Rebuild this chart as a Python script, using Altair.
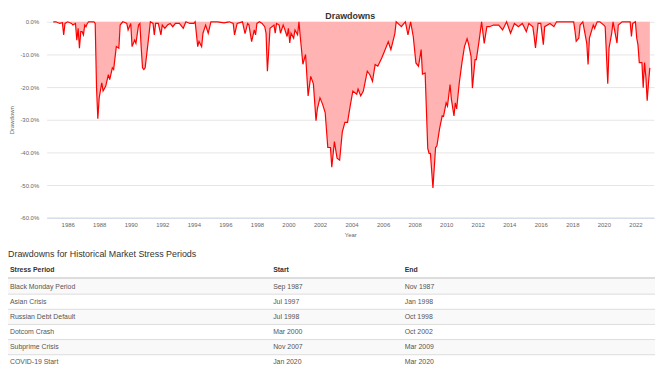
import altair as alt
import pandas as pd

# ---- Drawdown readings (month-end, percent) ----
months = [
    "1985-01", "1985-03", "1985-06", "1985-08", "1985-09", "1985-10", "1985-12",
    "1986-03", "1986-04", "1986-06", "1986-07", "1986-08", "1986-09", "1986-10", "1986-11", "1986-12",
    "1987-01", "1987-02", "1987-03", "1987-04", "1987-07", "1987-08", "1987-09", "1987-10", "1987-11", "1987-12",
    "1988-02", "1988-03", "1988-05", "1988-07", "1988-08", "1988-10", "1988-11",
    "1989-01", "1989-03", "1989-04", "1989-06", "1989-08", "1989-09", "1989-10", "1989-12",
    "1990-01", "1990-03", "1990-04", "1990-06", "1990-07", "1990-08", "1990-09", "1990-10", "1990-11",
    "1991-01", "1991-03", "1991-05", "1991-06", "1991-07", "1991-09", "1991-11", "1991-12",
    "1992-02", "1992-04", "1992-06", "1992-08", "1992-10",
    "1993-01", "1993-04", "1993-06", "1993-09", "1993-12",
    "1994-01", "1994-03", "1994-04", "1994-06", "1994-07", "1994-09", "1994-11",
    "1995-01", "1995-06", "1995-11", "1996-03", "1996-06", "1996-07", "1996-09",
    "1997-01", "1997-03", "1997-05", "1997-06", "1997-08", "1997-10", "1997-11", "1997-12",
    "1998-02", "1998-04", "1998-06", "1998-07", "1998-08", "1998-09", "1998-10",
    "1999-01", "1999-02", "1999-03", "1999-05", "1999-06", "1999-08", "1999-09", "1999-11", "1999-12",
    "2000-01", "2000-02", "2000-04", "2000-05", "2000-07", "2000-08", "2000-09", "2000-11",
    "2001-01", "2001-03", "2001-05", "2001-07", "2001-09", "2001-10", "2001-12",
    "2002-02", "2002-04", "2002-06", "2002-08", "2002-09", "2002-11",
    "2003-01", "2003-03", "2003-05", "2003-07", "2003-09", "2003-11",
    "2004-01", "2004-04", "2004-05", "2004-07", "2004-09", "2004-12",
    "2005-02", "2005-04", "2005-06", "2005-08", "2005-11",
    "2006-01", "2006-04", "2006-06", "2006-09", "2006-10",
    "2007-02", "2007-04", "2007-05", "2007-07", "2007-09", "2007-11",
    "2008-01", "2008-03", "2008-05", "2008-06", "2008-08", "2008-10", "2008-11", "2008-12",
    "2009-02", "2009-04", "2009-05", "2009-07", "2009-09", "2009-10", "2009-12",
    "2010-01", "2010-03", "2010-04", "2010-06", "2010-07", "2010-08", "2010-10", "2010-12",
    "2011-02", "2011-04", "2011-05", "2011-07", "2011-08", "2011-10", "2011-11",
    "2012-01", "2012-03", "2012-05", "2012-07", "2012-09", "2012-12",
    "2013-04", "2013-07", "2013-10",
    "2014-01", "2014-04", "2014-07", "2014-10",
    "2015-01", "2015-03", "2015-06", "2015-07", "2015-08", "2015-10", "2015-12",
    "2016-02", "2016-03", "2016-07", "2016-10", "2016-12",
    "2017-08", "2017-12",
    "2018-01", "2018-02", "2018-03", "2018-05", "2018-06", "2018-08", "2018-11", "2018-12",
    "2019-01", "2019-04", "2019-05", "2019-07", "2019-09", "2019-12",
    "2020-01", "2020-03", "2020-04", "2020-06", "2020-07", "2020-10", "2020-11",
    "2021-02", "2021-08", "2021-09", "2021-10", "2021-12",
    "2022-01", "2022-02", "2022-03", "2022-04", "2022-05", "2022-06", "2022-07", "2022-08",
    "2022-09", "2022-10", "2022-11",
]
drawdown_pct = [
    0.0, 0.0, -0.5, -0.3, -4.0, -0.5, 0.0,
    -0.5, -1.0, -0.5, -5.6, -2.0, -8.1, -3.0, -3.0, -4.0,
    -1.0, -1.5, -0.5, 0.0, 0.0, 0.0, -0.5, -20.2, -29.7, -23.3,
    -18.7, -21.2, -19.7, -16.2, -17.7, -14.1, -14.6,
    -7.6, -8.1, -1.0, 0.0, -0.3, -0.5, -2.5, -0.5,
    -7.6, -5.6, -6.6, -1.0, -0.5, -8.0, -14.1, -14.6, -14.1,
    -7.0, 0.0, -0.5, -4.0, -0.5, -0.5, -4.0, -1.0,
    -2.0, -1.0, -0.5, -1.5, -0.5,
    -0.5, -2.0, 0.0, -0.5, -0.5,
    0.0, -7.6, -6.0, -7.6, -3.5, -1.0, -3.5,
    0.0, 0.0, -0.3, 0.0, -0.5, -4.0, -0.5,
    0.0, -3.6, -0.5, -1.0, -6.1, -2.5, -4.0, -0.5,
    0.0, -0.5, -1.5, -3.5, -15.1, -9.0, -2.0,
    -1.0, -3.5, -0.5, -1.0, -3.5, -1.0, -2.0, -4.5, -2.0,
    -6.5, -3.5, -5.0, -2.5, -4.0, 0.0, -4.5, -13.0,
    -10.0, -22.7, -16.7, -19.0, -30.3, -26.7, -23.3,
    -25.2, -27.8, -38.5, -38.5, -44.5, -36.7,
    -41.8, -42.4, -33.8, -30.8, -30.8, -25.8,
    -21.2, -22.2, -20.6, -22.7, -21.2, -15.1,
    -16.2, -18.2, -13.1, -13.6, -11.1,
    -9.1, -6.1, -8.5, -3.6, 0.0,
    -1.5, -0.5, 0.0, -4.0, 0.0, -4.5,
    -12.6, -13.6, -8.5, -16.0, -15.7, -38.8, -40.3, -40.3,
    -50.9, -38.5, -38.0, -32.8, -28.8, -29.0, -24.8,
    -25.8, -19.2, -23.6, -28.8, -24.8, -26.7, -18.7, -12.6,
    -7.6, -5.2, -6.6, -10.6, -20.3, -11.6, -11.6,
    -6.0, 0.0, -6.6, -1.5, -1.5, -1.0,
    -1.0, -2.5, 0.0,
    -3.5, -0.5, -1.5, -0.5,
    -3.0, -0.5, -1.5, -4.5, -8.0, -0.5, -0.5,
    -7.0, -1.5, -0.5, -1.5, 0.0,
    0.0, 0.0,
    0.0, -2.5, -6.0, -5.0, -1.0, 0.0, -6.5, -13.1,
    -5.0, -1.0, -2.0, 0.0, 0.0, -1.0,
    -1.5, -19.0, -8.0, -3.5, 0.0, -6.5, -1.0,
    0.0, 0.0, -4.5, -0.5, 0.0,
    -5.0, -7.0, -12.5, -12.5, -12.5, -20.2, -12.5, -17.0,
    -24.2, -18.6, -14.1,
]

# ---- Stress period table ----
table_title = "Drawdowns for Historical Market Stress Periods"
column_headers = ["Stress Period", "Start", "End"]
stress_periods = ["Black Monday Period", "Asian Crisis", "Russian Debt Default",
                  "Dotcom Crash", "Subprime Crisis", "COVID-19 Start"]
period_start = ["Sep 1987", "Jul 1997", "Jul 1998", "Mar 2000", "Nov 2007", "Jan 2020"]
period_end = ["Nov 1987", "Jan 1998", "Oct 1998", "Oct 2002", "Mar 2009", "Mar 2020"]

FONT = "Liberation Sans"

df = pd.DataFrame({
    "date": (pd.to_datetime(months) + pd.offsets.MonthEnd(0)).strftime("%Y-%m-%d"),
    "dd": [v / 100 for v in drawdown_pct],
})

x_enc = alt.X(
    "date:T",
    scale=alt.Scale(domain=[alt.DateTime(year=1984, month=8, date=30),
                            alt.DateTime(year=2023, month=3, date=7)]),
    axis=alt.Axis(format="%Y", tickCount={"interval": "year", "step": 2}, grid=False,
                  ticks=False, domainColor="#ccd6eb", labelFontSize=6, labelColor="#666",
                  labelPadding=4, labelFlush=False, labelOverlap=False,
                  title="Year", titleFontSize=6,
                  titleFontWeight="normal", titleColor="#666", titlePadding=4),
)
y_enc = alt.Y(
    "dd:Q", scale=alt.Scale(domain=[-0.6, 0], nice=False),
    axis=alt.Axis(values=[0, -0.1, -0.2, -0.3, -0.4, -0.5, -0.6],
                  labelExpr="replace(format(datum.value, '.1%'), '\u2212', '-')",
                  grid=True, gridColor="#e6e6e6", domain=False, ticks=False,
                  labelOverlap=False, labelFlush=False,
                  labelFontSize=6, labelColor="#666", labelPadding=8,
                  title="Drawdown", titleFontSize=6, titleFontWeight="normal",
                  titleColor="#666", titlePadding=5),
)

base = alt.Chart(df).encode(x=x_enc, y=y_enc)
area = base.mark_area(color="#ffb3b3", opacity=1)
line = base.mark_line(color="#ff0000", strokeWidth=1.2)
main = alt.layer(area, line)

# ---- table layers ----
tdf = pd.DataFrame({"period": stress_periods, "start": period_start, "end": period_end})
row_scale = alt.Scale(type="band", domain=stress_periods, range=[260, 351.8],
                      paddingInner=0, paddingOuter=0)
LEFT, RIGHT = -39, 616
col_x = [-37, 229, 362]

stripes = alt.Chart(tdf.iloc[0::2]).mark_rect(color="#f9f9f9").encode(
    y=alt.Y("period:N", scale=row_scale, axis=None),
    x=alt.value(LEFT), x2=alt.value(RIGHT))
row_rules = alt.Chart(tdf.iloc[1:]).mark_rule(color="#dddddd", strokeWidth=1).encode(
    y=alt.Y("period:N", scale=row_scale, axis=None, bandPosition=0),
    x=alt.value(LEFT), x2=alt.value(RIGHT))
header_rule = alt.Chart(tdf.iloc[:1]).mark_rule(color="#dddddd", strokeWidth=2).encode(
    y=alt.value(259), x=alt.value(LEFT), x2=alt.value(RIGHT))

title_txt = alt.Chart(pd.DataFrame({"t": [table_title]})).mark_text(
    align="left", baseline="middle", fontSize=9, color="#333", font=FONT).encode(
    text="t:N", x=alt.value(LEFT), y=alt.value(235))

hdf = pd.DataFrame({"h": column_headers})
header_layers = []
for i, h in enumerate(column_headers):
    header_layers.append(
        alt.Chart(hdf.iloc[i:i + 1]).mark_text(
            align="left", baseline="middle", fontSize=7, fontWeight="bold",
            color="#333", font=FONT).encode(
            text="h:N", x=alt.value(col_x[i]), y=alt.value(251)))

cell_layers = []
for i, field in enumerate(["period", "start", "end"]):
    cell_layers.append(
        alt.Chart(tdf).mark_text(align="left", baseline="middle", fontSize=7,
                                 color="#555", font=FONT).encode(
            text=f"{field}:N",
            y=alt.Y("period:N", scale=row_scale, axis=None, bandPosition=0.5),
            x=alt.value(col_x[i])))

table = alt.layer(stripes, row_rules, header_rule, title_txt, *header_layers, *cell_layers)

chart = alt.layer(main, table).resolve_scale(y="independent").properties(
    width=614, height=198,
    autosize=alt.AutoSizeParams(type="none"),
    padding={"left": 39, "top": 12, "right": 1, "bottom": 152},
    title=alt.TitleParams("Drawdowns", fontSize=9, fontWeight="bold", color="#333",
                          anchor="middle", offset=-2, font=FONT),
).configure(font=FONT).configure_view(stroke=None)

chart.save("out.html", embed_options={"renderer": "svg", "actions": False})
